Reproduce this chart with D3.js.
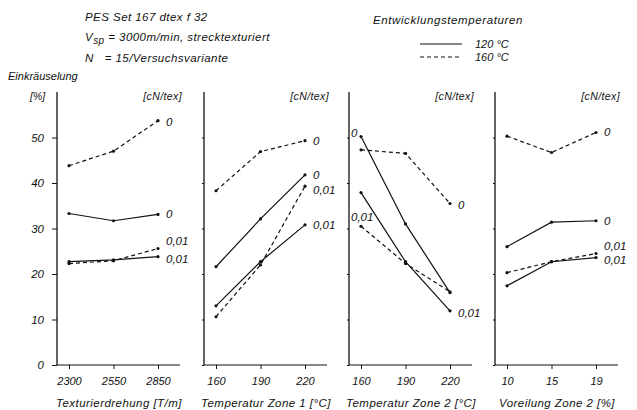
<!DOCTYPE html>
<html><head><meta charset="utf-8">
<script src="https://cdn.jsdelivr.net/npm/d3@7"></script>
<style>
body{margin:0;background:#fff;}
text{font-family:"Liberation Sans","DejaVu Sans",sans-serif;font-style:italic;fill:#111;white-space:pre;}
</style></head>
<body>
<svg id="c" width="637" height="410"></svg>
<script>
// ---- data ----
const panelTitles = ["Texturierdrehung [T/m]", "Temperatur Zone 1 [°C]", "Temperatur Zone 2 [°C]", "Voreilung Zone 2 [%]"];
const xCategories = [["2300","2550","2850"],["160","190","220"],["160","190","220"],["10","15","19"]];
const yTicks = [0,10,20,30,40,50];
// 120 °C (solid)
const t120_load0   = [[33.3,31.7,33.1],[21.6,32.1,41.8],[50.2,31.0,15.9],[26.0,31.4,31.7]];
const t120_load001 = [[22.7,23.1,23.8],[13.0,22.7,30.8],[37.9,22.7,11.9],[17.4,22.7,23.6]];
// 160 °C (dashed)
const t160_load0   = [[43.8,47.0,53.7],[38.3,46.9,49.3],[47.3,46.5,35.5],[50.3,46.7,51.1]];
const t160_load001 = [[22.3,22.9,25.6],[10.6,22.0,39.3],[30.5,22.3,16.1],[20.3,22.7,24.5]];
const loadLabels = ["0","0,01"];
const legendLabels = ["120 °C","160 °C"];

// ---- layout ----
const svg = d3.select("#c");
const panelLeft = [57, 204, 349, 495];
const panelWidth = 123;
const y = d3.scaleLinear().domain([0,60]).range([365,92]);

const series = [
  {vals:t120_load0, dash:null, lab:loadLabels[0]},
  {vals:t120_load001, dash:null, lab:loadLabels[1]},
  {vals:t160_load0, dash:"4,3", lab:loadLabels[0]},
  {vals:t160_load001, dash:"4,3", lab:loadLabels[1]}
];
// label placement per panel: side ('r' end / 'l' start), dy
const labelPlacement = [
  [["r",0],["r",2],["r",1],["r",-8]],
  [["r",0],["r",0],["r",0],["r",4]],
  [["l",-4],["r",2],["r",2],["l",-9]],
  [["r",0],["r",2],["r",0],["r",-8]]
];

panelTitles.forEach((title,p)=>{
  const x0 = panelLeft[p];
  const x = d3.scalePoint().domain(xCategories[p]).range([x0+12, x0+101]);
  const g = svg.append("g");
  g.append("line").attr("x1",x0).attr("x2",x0).attr("y1",y(60)).attr("y2",y(0))
    .attr("stroke","#111").attr("stroke-width",1.3);
  const yAx = d3.axisLeft(y).tickValues(yTicks).tickSize(p===0?5:2).tickFormat(p===0?d3.format("d"):"");
  const ya = g.append("g").attr("transform",`translate(${x0},0)`).call(yAx);
  ya.select(".domain").remove();
  ya.selectAll(".tick line").attr("stroke","#111");
  ya.selectAll(".tick text").attr("font-size",11.5).attr("x",-13).style("font-family",null);
  g.append("line").attr("x1",x0).attr("x2",x0+panelWidth).attr("y1",y(0)).attr("y2",y(0))
    .attr("stroke","#111").attr("stroke-width",1.1);
  const xAx = d3.axisBottom(x).tickSize(4).tickSizeOuter(0);
  const xa = g.append("g").attr("transform",`translate(0,${y(0)})`).call(xAx);
  xa.select(".domain").remove();
  xa.selectAll(".tick line").attr("stroke","#111");
  xa.selectAll(".tick text").attr("font-size",11).attr("y",12).style("font-family",null);
  g.append("text").attr("x",x0+62).attr("y",407).attr("text-anchor","middle")
    .attr("font-size",11.5).attr("letter-spacing",0.45).text(title);
  g.append("text").attr("x",x0+panelWidth+2).attr("y",100).attr("text-anchor","end")
    .attr("font-size",10.5).attr("letter-spacing",0.4).text("[cN/tex]");
  const line = d3.line().x((d,i)=>x(xCategories[p][i])).y(d=>y(d));
  series.forEach((s,si)=>{
    const v = s.vals[p];
    g.append("path").attr("d",line(v)).attr("fill","none").attr("stroke","#111")
      .attr("stroke-width",1.2).attr("stroke-dasharray",s.dash);
    g.selectAll(null).data(v).enter().append("circle")
      .attr("cx",(d,i)=>x(xCategories[p][i])).attr("cy",d=>y(d)).attr("r",1.6).attr("fill","#111");
    const [side,dy] = labelPlacement[p][si];
    const idx = side==="r" ? v.length-1 : 0;
    g.append("text")
      .attr("x", x(xCategories[p][idx]) + (side==="r"?8:-10))
      .attr("y", y(v[idx]) + dy + 4)
      .attr("font-size",11.5).text(s.lab);
  });
});

svg.append("text").attr("x",30).attr("y",100).attr("font-size",10.5).text("[%]");
svg.append("text").attr("x",8).attr("y",80).attr("font-size",11).text("Einkräuselung");

svg.append("text").attr("x",85).attr("y",21).attr("font-size",11.5).attr("letter-spacing",0.45).text("PES Set 167 dtex f 32");
const t2 = svg.append("text").attr("x",85).attr("y",41).attr("font-size",11.5).attr("letter-spacing",0.45);
t2.append("tspan").text("V");
t2.append("tspan").attr("dy",3).attr("font-size",10).text("sp");
t2.append("tspan").attr("dy",-3).text(" = 3000m/min, strecktexturiert");
svg.append("text").attr("x",85).attr("y",62).attr("font-size",11.5).attr("letter-spacing",0.45).text("N   = 15/Versuchsvariante");

svg.append("text").attr("x",373).attr("y",24).attr("font-size",11.5).attr("letter-spacing",0.6).text("Entwicklungstemperaturen");
legendLabels.forEach((lab,i)=>{
  const ly = 44 + i*13;
  svg.append("line").attr("x1",420).attr("x2",462).attr("y1",ly).attr("y2",ly)
    .attr("stroke","#111").attr("stroke-width",1.2).attr("stroke-dasharray", i===0?null:"4,3");
  svg.append("text").attr("x",475).attr("y",ly+4).attr("font-size",11).text(lab);
});
</script>
</body></html>
